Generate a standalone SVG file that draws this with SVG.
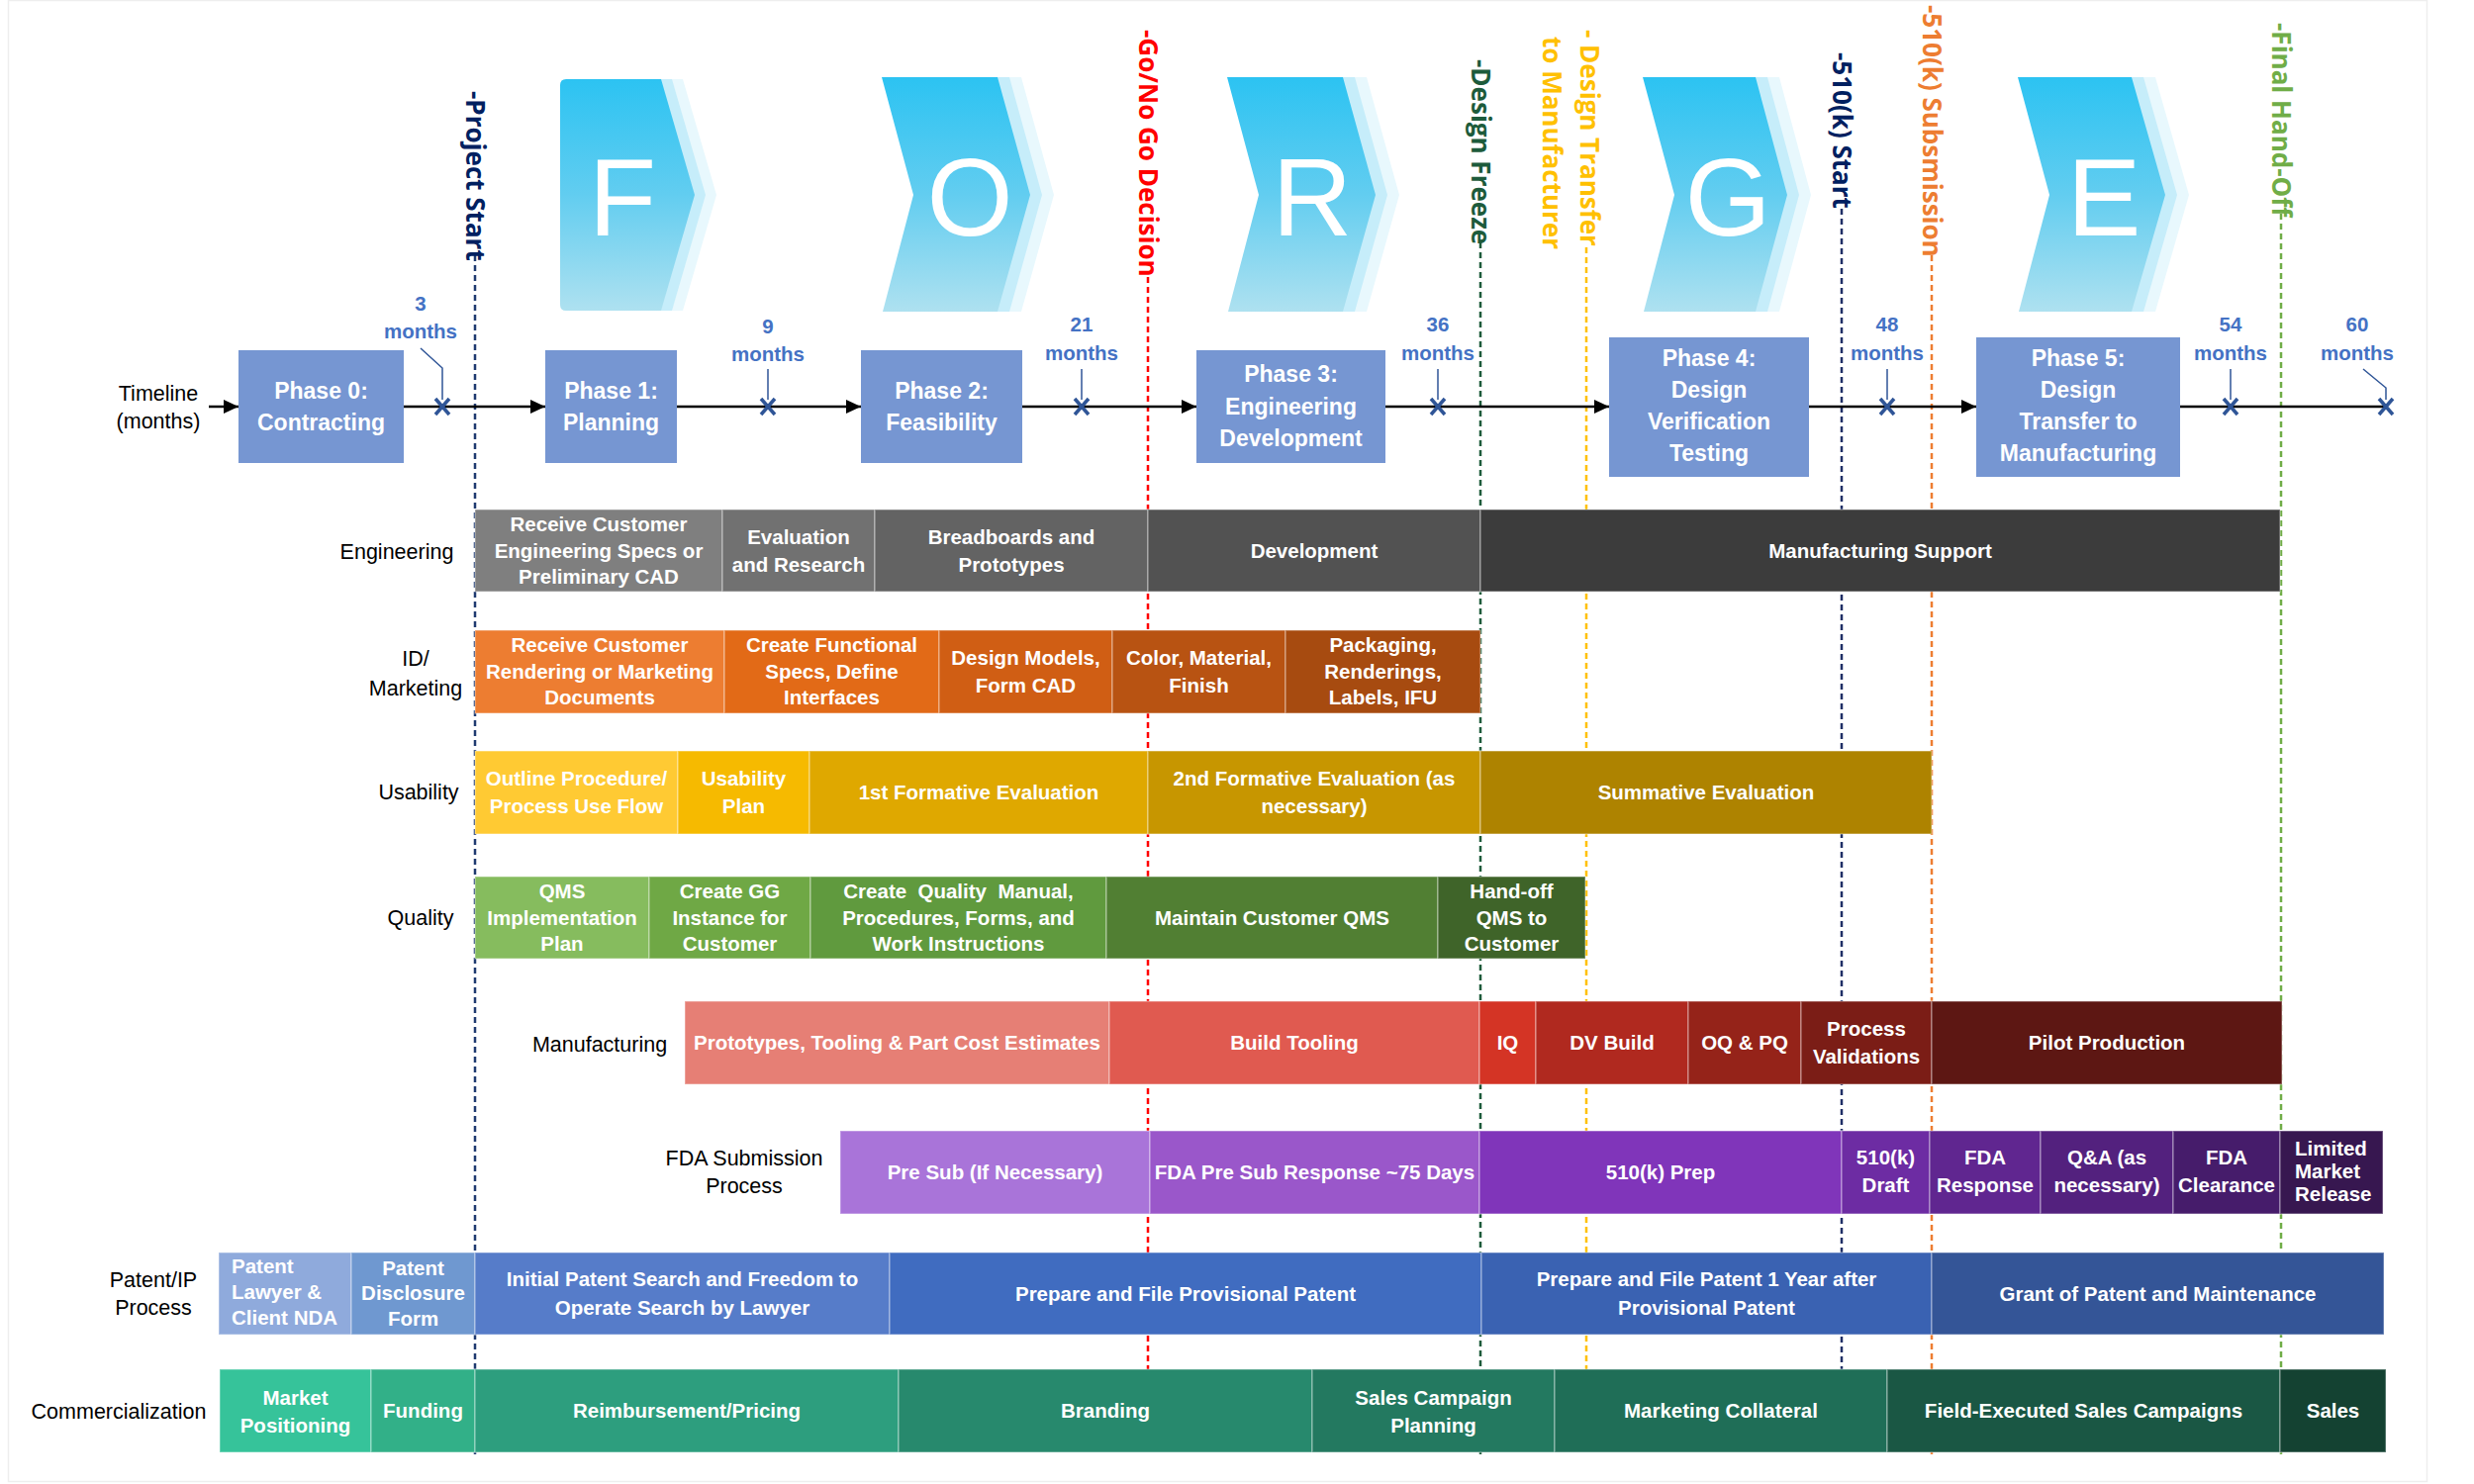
<svg xmlns="http://www.w3.org/2000/svg" width="2500" height="1500" viewBox="0 0 2500 1500">
<style>
.bt{font-family:'Liberation Sans',Arial,sans-serif;font-weight:bold;font-size:20.5px;fill:#fff;text-anchor:middle}
.btl{font-family:'Liberation Sans',Arial,sans-serif;font-weight:bold;font-size:20.5px;fill:#fff;text-anchor:start}
.rl{font-family:'Liberation Sans',Arial,sans-serif;font-size:21.5px;fill:#000;text-anchor:middle}
.ph{font-family:'Liberation Sans',Arial,sans-serif;font-weight:bold;font-size:23px;fill:#fff;text-anchor:middle}
.mo{font-family:'Liberation Sans',Arial,sans-serif;font-weight:bold;font-size:20.5px;fill:#4472C4;text-anchor:middle}
.ms{font-family:'Open Sans','DejaVu Sans',sans-serif;font-weight:bold;font-size:26px}
.big{font-family:'Liberation Sans',Arial,sans-serif;font-size:112px;fill:#fff;text-anchor:middle}
.seg rect{stroke:#fff;stroke-opacity:0.35;stroke-width:1.5}
.box{fill:#7696D2}
.tl{stroke:#000;stroke-width:2.5;fill:none}
.ld{stroke:#2F5597;stroke-width:1.5;fill:none}
.xm{stroke:#2F5597;stroke-width:3.5;fill:none}
.dl{stroke-width:2.5;stroke-dasharray:6 4;fill:none}
.l2{fill:#C6EDFA}
.l3{fill:#E8F8FD}
</style>
<defs>
<linearGradient id="cg" x1="0" y1="0" x2="0" y2="1">
<stop offset="0" stop-color="#2CC3F2"/>
<stop offset="0.5" stop-color="#62CDF0"/>
<stop offset="1" stop-color="#AEE1F0"/>
</linearGradient>
<marker id="ah" markerUnits="userSpaceOnUse" markerWidth="15" markerHeight="14" viewBox="0 0 15 14" refX="15" refY="7" orient="auto">
<path d="M0,0 L15,7 L0,14 Z" fill="#000"/>
</marker>
</defs>
<rect x="8.5" y="0.5" width="2444" height="1497" fill="#fff" stroke="#EEEEEE" stroke-width="1.5"/>

<g id="milestone-lines">
<line class="dl" x1="480" y1="258" x2="480" y2="1470" stroke="#1F3A70"/>
<line class="dl" x1="1160" y1="280" x2="1160" y2="1470" stroke="#FF0000"/>
<line class="dl" x1="1496" y1="245" x2="1496" y2="1470" stroke="#1D5B3B"/>
<line class="dl" x1="1603" y1="250" x2="1603" y2="1470" stroke="#FFC000"/>
<line class="dl" x1="1861" y1="211" x2="1861" y2="1470" stroke="#1F2F66"/>
<line class="dl" x1="1952" y1="258" x2="1952" y2="1470" stroke="#ED7D31"/>
<line class="dl" x1="2305" y1="216" x2="2305" y2="1470" stroke="#70AD47"/>
</g>

<g id="milestone-labels">
<text class="ms" fill="#002060" transform="translate(471,92) rotate(90)">-Project Start</text>
<text class="ms" fill="#FF0000" transform="translate(1151,30) rotate(90)">-Go/No Go Decision</text>
<text class="ms" fill="#1D5B3B" transform="translate(1487,60) rotate(90)">-Design Freeze</text>
<text class="ms" fill="#FFC000" transform="translate(1597,30) rotate(90)">- Design Transfer</text>
<text class="ms" fill="#FFC000" transform="translate(1559,37) rotate(90)">to Manufacturer</text>
<text class="ms" fill="#002060" transform="translate(1852,53) rotate(90)">-510(k) Start</text>
<text class="ms" fill="#ED7D31" transform="translate(1943,5) rotate(90)">-510(k) Subsmission</text>
<text class="ms" fill="#70AD47" transform="translate(2296,23) rotate(90)">-Final Hand-Off</text>
</g>

<g id="chevron-F">
<path class="l3" transform="translate(22,0)" d="M572 80 H668 L702 197 L668 314 H572 Q566 314 566 308 V86 Q566 80 572 80 Z"/>
<path class="l2" transform="translate(11,0)" d="M572 80 H668 L702 197 L668 314 H572 Q566 314 566 308 V86 Q566 80 572 80 Z"/>
<path fill="url(#cg)" d="M572 80 H668 L702 197 L668 314 H572 Q566 314 566 308 V86 Q566 80 572 80 Z"/>
<text class="big" x="629" y="238">F</text>
</g>
<g id="chevron-O">
<path class="l3" d="M915 78 H1032 L1065 197 L1032 315 H916 L947 197 Z"/>
<path class="l2" d="M903 78 H1020 L1053 197 L1020 315 H904 L935 197 Z"/>
<path fill="url(#cg)" d="M891 78 H1008 L1041 197 L1008 315 H892 L923 197 Z"/>
<text class="big" x="980" y="238">O</text>
</g>
<g id="chevron-R">
<path class="l3" d="M1264 78 H1381 L1414 197 L1381 315 H1265 L1296 197 Z"/>
<path class="l2" d="M1252 78 H1369 L1402 197 L1369 315 H1253 L1284 197 Z"/>
<path fill="url(#cg)" d="M1240 78 H1357 L1390 197 L1357 315 H1241 L1272 197 Z"/>
<text class="big" x="1326" y="238">R</text>
</g>
<g id="chevron-G">
<path class="l3" d="M1684 78 H1798 L1830 197 L1798 315 H1685 L1716 197 Z"/>
<path class="l2" d="M1672 78 H1786 L1818 197 L1786 315 H1673 L1704 197 Z"/>
<path fill="url(#cg)" d="M1660 78 H1774 L1806 197 L1774 315 H1661 L1692 197 Z"/>
<text class="big" x="1746" y="238">G</text>
</g>
<g id="chevron-E">
<path class="l3" d="M2063 78 H2178 L2212 197 L2178 315 H2064 L2095 197 Z"/>
<path class="l2" d="M2051 78 H2166 L2200 197 L2166 315 H2052 L2083 197 Z"/>
<path fill="url(#cg)" d="M2039 78 H2154 L2188 197 L2154 315 H2040 L2071 197 Z"/>
<text class="big" x="2126" y="238">E</text>
</g>

<g id="connectors">
<line class="tl" x1="211" y1="411" x2="241" y2="411" marker-end="url(#ah)"/>
<line class="tl" x1="408" y1="411" x2="551" y2="411" marker-end="url(#ah)"/>
<line class="tl" x1="684" y1="411" x2="870" y2="411" marker-end="url(#ah)"/>
<line class="tl" x1="1033" y1="411" x2="1209" y2="411" marker-end="url(#ah)"/>
<line class="tl" x1="1400" y1="411" x2="1626" y2="411" marker-end="url(#ah)"/>
<line class="tl" x1="1828" y1="411" x2="1997" y2="411" marker-end="url(#ah)"/>
<line class="tl" x1="2203" y1="411" x2="2411" y2="411"/>
<polyline class="ld" points="425,352 447,372 447,404"/>
<line class="ld" x1="776" y1="373" x2="776" y2="404"/>
<line class="ld" x1="1093" y1="373" x2="1093" y2="404"/>
<line class="ld" x1="1453" y1="373" x2="1453" y2="404"/>
<line class="ld" x1="1907" y1="373" x2="1907" y2="404"/>
<line class="ld" x1="2254" y1="373" x2="2254" y2="404"/>
<polyline class="ld" points="2388,373 2411,392 2411,404"/>
</g>

<g id="month-marks">
<path class="xm" d="M440 403 L454 419 M454 403 L440 419"/>
<path class="xm" d="M769 403 L783 419 M783 403 L769 419"/>
<path class="xm" d="M1086 403 L1100 419 M1100 403 L1086 419"/>
<path class="xm" d="M1446 403 L1460 419 M1460 403 L1446 419"/>
<path class="xm" d="M1900 403 L1914 419 M1914 403 L1900 419"/>
<path class="xm" d="M2247 403 L2261 419 M2261 403 L2247 419"/>
<path class="xm" d="M2404 403 L2418 419 M2418 403 L2404 419"/>
<text class="mo" x="425" y="314">3</text><text class="mo" x="425" y="342">months</text>
<text class="mo" x="776" y="337">9</text><text class="mo" x="776" y="365">months</text>
<text class="mo" x="1093" y="335">21</text><text class="mo" x="1093" y="364">months</text>
<text class="mo" x="1453" y="335">36</text><text class="mo" x="1453" y="364">months</text>
<text class="mo" x="1907" y="335">48</text><text class="mo" x="1907" y="364">months</text>
<text class="mo" x="2254" y="335">54</text><text class="mo" x="2254" y="364">months</text>
<text class="mo" x="2382" y="335">60</text><text class="mo" x="2382" y="364">months</text>
</g>

<g id="row-labels">
<text class="rl" x="160"><tspan x="160" y="405">Timeline</tspan><tspan x="160" y="433">(months)</tspan></text>
<text class="rl" x="401" y="565">Engineering</text>
<text class="rl" x="420"><tspan x="420" y="673">ID/</tspan><tspan x="420" y="703">Marketing</tspan></text>
<text class="rl" x="423" y="808">Usability</text>
<text class="rl" x="425" y="935">Quality</text>
<text class="rl" x="606" y="1063">Manufacturing</text>
<text class="rl" x="752"><tspan x="752" y="1178">FDA Submission</tspan><tspan x="752" y="1206">Process</tspan></text>
<text class="rl" x="155"><tspan x="155" y="1301">Patent/IP</tspan><tspan x="155" y="1329">Process</tspan></text>
<text class="rl" x="120" y="1434">Commercialization</text>
</g>

<g id="phase-0"><rect class="box" x="241" y="354" width="167" height="114"/><text class="ph"><tspan x="324.5" y="403">Phase 0:</tspan><tspan x="324.5" y="435">Contracting</tspan></text></g>
<g id="phase-1"><rect class="box" x="551" y="354" width="133" height="114"/><text class="ph"><tspan x="617.5" y="403">Phase 1:</tspan><tspan x="617.5" y="435">Planning</tspan></text></g>
<g id="phase-2"><rect class="box" x="870" y="354" width="163" height="114"/><text class="ph"><tspan x="951.5" y="403">Phase 2:</tspan><tspan x="951.5" y="435">Feasibility</tspan></text></g>
<g id="phase-3"><rect class="box" x="1209" y="354" width="191" height="114"/><text class="ph"><tspan x="1304.5" y="386">Phase 3:</tspan><tspan x="1304.5" y="419">Engineering</tspan><tspan x="1304.5" y="451">Development</tspan></text></g>
<g id="phase-4"><rect class="box" x="1626" y="341" width="202" height="141"/><text class="ph"><tspan x="1727" y="370">Phase 4:</tspan><tspan x="1727" y="402">Design</tspan><tspan x="1727" y="434">Verification</tspan><tspan x="1727" y="466">Testing</tspan></text></g>
<g id="phase-5"><rect class="box" x="1997" y="341" width="206" height="141"/><text class="ph"><tspan x="2100" y="370">Phase 5:</tspan><tspan x="2100" y="402">Design</tspan><tspan x="2100" y="434">Transfer to</tspan><tspan x="2100" y="466">Manufacturing</tspan></text></g>

<g id="engineering" class="seg">
<g id="eng-1"><rect x="480" y="515" width="250" height="83" fill="#7F7F7F"/><text class="bt"><tspan x="605" y="537">Receive Customer</tspan><tspan x="605" y="564">Engineering Specs or</tspan><tspan x="605" y="590">Preliminary CAD</tspan></text></g>
<g id="eng-2"><rect x="730" y="515" width="154" height="83" fill="#717171"/><text class="bt"><tspan x="807" y="550">Evaluation</tspan><tspan x="807" y="578">and Research</tspan></text></g>
<g id="eng-3"><rect x="884" y="515" width="276" height="83" fill="#636363"/><text class="bt"><tspan x="1022" y="550">Breadboards and</tspan><tspan x="1022" y="578">Prototypes</tspan></text></g>
<g id="eng-4"><rect x="1160" y="515" width="336" height="83" fill="#525252"/><text class="bt" x="1328" y="564">Development</text></g>
<g id="eng-5"><rect x="1496" y="515" width="808" height="83" fill="#3C3C3C"/><text class="bt" x="1900" y="564">Manufacturing Support</text></g>
</g>

<g id="id-marketing" class="seg">
<g id="id-1"><rect x="480" y="637" width="252" height="84" fill="#ED7D31"/><text class="bt"><tspan x="606" y="659">Receive Customer</tspan><tspan x="606" y="686">Rendering or Marketing</tspan><tspan x="606" y="712">Documents</tspan></text></g>
<g id="id-2"><rect x="732" y="637" width="217" height="84" fill="#E26A17"/><text class="bt"><tspan x="840.5" y="659">Create Functional</tspan><tspan x="840.5" y="686">Specs, Define</tspan><tspan x="840.5" y="712">Interfaces</tspan></text></g>
<g id="id-3"><rect x="949" y="637" width="175" height="84" fill="#D05E14"/><text class="bt"><tspan x="1036.5" y="672">Design Models,</tspan><tspan x="1036.5" y="700">Form CAD</tspan></text></g>
<g id="id-4"><rect x="1124" y="637" width="175" height="84" fill="#B85312"/><text class="bt"><tspan x="1211.5" y="672">Color, Material,</tspan><tspan x="1211.5" y="700">Finish</tspan></text></g>
<g id="id-5"><rect x="1299" y="637" width="197" height="84" fill="#A74B10"/><text class="bt"><tspan x="1397.5" y="659">Packaging,</tspan><tspan x="1397.5" y="686">Renderings,</tspan><tspan x="1397.5" y="712">Labels, IFU</tspan></text></g>
</g>

<g id="usability" class="seg">
<g id="us-1"><rect x="480" y="759" width="205" height="84" fill="#FFCA33"/><text class="bt"><tspan x="582.5" y="794">Outline Procedure/</tspan><tspan x="582.5" y="822">Process Use Flow</tspan></text></g>
<g id="us-2"><rect x="685" y="759" width="133" height="84" fill="#F6BA00"/><text class="bt"><tspan x="751.5" y="794">Usability</tspan><tspan x="751.5" y="822">Plan</tspan></text></g>
<g id="us-3"><rect x="818" y="759" width="342" height="84" fill="#DFA800"/><text class="bt" x="989" y="808">1st Formative Evaluation</text></g>
<g id="us-4"><rect x="1160" y="759" width="336" height="84" fill="#C79600"/><text class="bt"><tspan x="1328" y="794">2nd Formative Evaluation (as</tspan><tspan x="1328" y="822">necessary)</tspan></text></g>
<g id="us-5"><rect x="1496" y="759" width="456" height="84" fill="#AE8300"/><text class="bt" x="1724" y="808">Summative Evaluation</text></g>
</g>

<g id="quality" class="seg">
<g id="q-1"><rect x="480" y="886" width="176" height="83" fill="#86BC5E"/><text class="bt"><tspan x="568" y="908">QMS</tspan><tspan x="568" y="935">Implementation</tspan><tspan x="568" y="961">Plan</tspan></text></g>
<g id="q-2"><rect x="656" y="886" width="163" height="83" fill="#6FA845"/><text class="bt"><tspan x="737.5" y="908">Create GG</tspan><tspan x="737.5" y="935">Instance for</tspan><tspan x="737.5" y="961">Customer</tspan></text></g>
<g id="q-3"><rect x="819" y="886" width="299" height="83" fill="#609A3E"/><text class="bt" style="white-space:pre"><tspan x="968.5" y="908">Create  Quality  Manual,</tspan><tspan x="968.5" y="935">Procedures, Forms, and</tspan><tspan x="968.5" y="961">Work Instructions</tspan></text></g>
<g id="q-4"><rect x="1118" y="886" width="335" height="83" fill="#517F33"/><text class="bt" x="1285.5" y="935">Maintain Customer QMS</text></g>
<g id="q-5"><rect x="1453" y="886" width="149" height="83" fill="#3F6429"/><text class="bt"><tspan x="1527.5" y="908">Hand-off</tspan><tspan x="1527.5" y="935">QMS to</tspan><tspan x="1527.5" y="961">Customer</tspan></text></g>
</g>

<g id="manufacturing" class="seg">
<g id="m-1"><rect x="692" y="1012" width="429" height="84" fill="#E67F75"/><text class="bt" x="906.5" y="1061">Prototypes, Tooling &amp; Part Cost Estimates</text></g>
<g id="m-2"><rect x="1121" y="1012" width="374" height="84" fill="#E05A50"/><text class="bt" x="1308" y="1061">Build Tooling</text></g>
<g id="m-3"><rect x="1495" y="1012" width="57" height="84" fill="#D43425"/><text class="bt" x="1523.5" y="1061">IQ</text></g>
<g id="m-4"><rect x="1552" y="1012" width="154" height="84" fill="#B0291F"/><text class="bt" x="1629" y="1061">DV Build</text></g>
<g id="m-5"><rect x="1706" y="1012" width="114" height="84" fill="#952319"/><text class="bt" x="1763" y="1061">OQ &amp; PQ</text></g>
<g id="m-6"><rect x="1820" y="1012" width="132" height="84" fill="#7B1D16"/><text class="bt"><tspan x="1886" y="1047">Process</tspan><tspan x="1886" y="1075">Validations</tspan></text></g>
<g id="m-7"><rect x="1952" y="1012" width="354" height="84" fill="#5D1713"/><text class="bt" x="2129" y="1061">Pilot Production</text></g>
</g>

<g id="fda" class="seg">
<g id="f-1"><rect x="849" y="1143" width="313" height="84" fill="#A974D9"/><text class="bt" x="1005.5" y="1192">Pre Sub (If Necessary)</text></g>
<g id="f-2"><rect x="1162" y="1143" width="333" height="84" fill="#9A57CA"/><text class="bt" x="1328.5" y="1192">FDA Pre Sub Response ~75 Days</text></g>
<g id="f-3"><rect x="1495" y="1143" width="366" height="84" fill="#8035BA"/><text class="bt" x="1678" y="1192">510(k) Prep</text></g>
<g id="f-4"><rect x="1861" y="1143" width="89" height="84" fill="#6D2CA3"/><text class="bt"><tspan x="1905.5" y="1177">510(k)</tspan><tspan x="1905.5" y="1205">Draft</tspan></text></g>
<g id="f-5"><rect x="1950" y="1143" width="112" height="84" fill="#602690"/><text class="bt"><tspan x="2006" y="1177">FDA</tspan><tspan x="2006" y="1205">Response</tspan></text></g>
<g id="f-6"><rect x="2062" y="1143" width="134" height="84" fill="#53217E"/><text class="bt"><tspan x="2129" y="1177">Q&amp;A (as</tspan><tspan x="2129" y="1205">necessary)</tspan></text></g>
<g id="f-7"><rect x="2196" y="1143" width="108" height="84" fill="#461C6B"/><text class="bt"><tspan x="2250" y="1177">FDA</tspan><tspan x="2250" y="1205">Clearance</tspan></text></g>
<g id="f-8"><rect x="2304" y="1143" width="104" height="84" fill="#371750"/><text class="btl"><tspan x="2319" y="1168">Limited</tspan><tspan x="2319" y="1191">Market</tspan><tspan x="2319" y="1214">Release</tspan></text></g>
</g>

<g id="patent" class="seg">
<g id="p-1"><rect x="221" y="1266" width="134" height="83" fill="#8FAADC"/><text class="btl"><tspan x="234" y="1287">Patent</tspan><tspan x="234" y="1313">Lawyer &amp;</tspan><tspan x="234" y="1339">Client NDA</tspan></text></g>
<g id="p-2"><rect x="355" y="1266" width="125" height="83" fill="#6F98D0"/><text class="bt"><tspan x="417.5" y="1289">Patent</tspan><tspan x="417.5" y="1314">Disclosure</tspan><tspan x="417.5" y="1340">Form</tspan></text></g>
<g id="p-3"><rect x="480" y="1266" width="419" height="83" fill="#567CC9"/><text class="bt"><tspan x="689.5" y="1300">Initial Patent Search and Freedom to</tspan><tspan x="689.5" y="1329">Operate Search by Lawyer</tspan></text></g>
<g id="p-4"><rect x="899" y="1266" width="598" height="83" fill="#406CC0"/><text class="bt" x="1198" y="1315">Prepare and File Provisional Patent</text></g>
<g id="p-5"><rect x="1497" y="1266" width="455" height="83" fill="#3A62B2"/><text class="bt"><tspan x="1724.5" y="1300">Prepare and File Patent 1 Year after</tspan><tspan x="1724.5" y="1329">Provisional Patent</tspan></text></g>
<g id="p-6"><rect x="1952" y="1266" width="457" height="83" fill="#345597"/><text class="bt" x="2180.5" y="1315">Grant of Patent and Maintenance</text></g>
</g>

<g id="commercialization" class="seg">
<g id="c-1"><rect x="222" y="1384" width="153" height="84" fill="#36C39A"/><text class="bt"><tspan x="298.5" y="1420">Market</tspan><tspan x="298.5" y="1448">Positioning</tspan></text></g>
<g id="c-2"><rect x="375" y="1384" width="105" height="84" fill="#32B088"/><text class="bt" x="427.5" y="1433">Funding</text></g>
<g id="c-3"><rect x="480" y="1384" width="428" height="84" fill="#2D9E7E"/><text class="bt" x="694" y="1433">Reimbursement/Pricing</text></g>
<g id="c-4"><rect x="908" y="1384" width="418" height="84" fill="#27896D"/><text class="bt" x="1117" y="1433">Branding</text></g>
<g id="c-5"><rect x="1326" y="1384" width="245" height="84" fill="#237960"/><text class="bt"><tspan x="1448.5" y="1420">Sales Campaign</tspan><tspan x="1448.5" y="1448">Planning</tspan></text></g>
<g id="c-6"><rect x="1571" y="1384" width="336" height="84" fill="#1F6E57"/><text class="bt" x="1739" y="1433">Marketing Collateral</text></g>
<g id="c-7"><rect x="1907" y="1384" width="397" height="84" fill="#1A5744"/><text class="bt" x="2105.5" y="1433">Field-Executed Sales Campaigns</text></g>
<g id="c-8"><rect x="2304" y="1384" width="107" height="84" fill="#144232"/><text class="bt" x="2357.5" y="1433">Sales</text></g>
</g>
</svg>
